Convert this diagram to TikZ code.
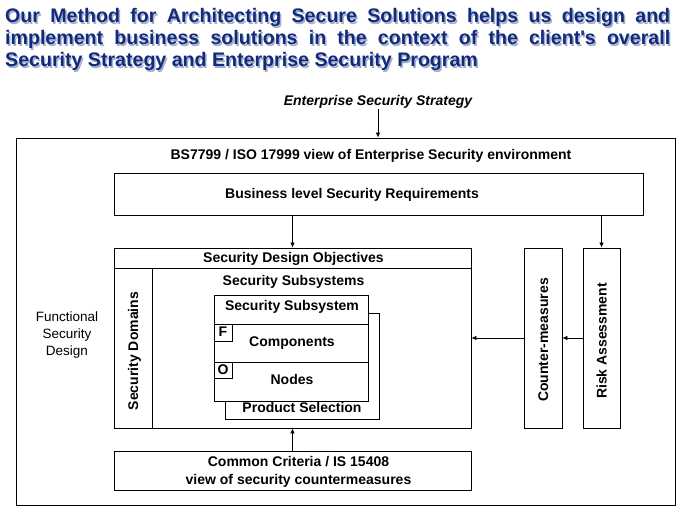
\documentclass[tikz,border=0pt]{standalone}
\usepackage{fontspec}
\setmainfont{Liberation Sans}
\usetikzlibrary{arrows.meta}
\definecolor{navy}{RGB}{18,42,122}
\definecolor{shade}{RGB}{165,175,205}
\begin{document}
\begin{tikzpicture}[x=1pt,y=-1pt,
  bx/.style={draw, line width=0.8pt, fill=white, inner sep=0pt},
  lbl/.style={font=\fontsize{14}{18}\selectfont\bfseries, inner sep=0pt, text height=10pt, text depth=0pt},
  mlbl/.style={font=\fontsize{14}{18}\selectfont\bfseries, inner sep=0pt, align=center},
  ttl/.style={font=\fontsize{19.6}{22}\selectfont\bfseries, inner sep=0pt, anchor=base west},
  arr/.style={-{Latex[length=5pt,width=4.5pt]}, line width=0.8pt},
  ln/.style={line width=0.8pt}]
\useasboundingbox (0,0) rectangle (689,518);
% title with shadow
\node[ttl, text=shade] (t1s) at (6.5,24.5) {\makebox[665pt][s]{Our Method for Architecting Secure Solutions helps us design and}};
\node[ttl, text=shade] (t2s) at (6.5,46.5) {\makebox[665pt][s]{implement business solutions in the context of the client\textquotesingle s overall}};
\node[ttl, text=shade] (t3s) at (6.5,68.5) {Security Strategy and Enterprise Security Program};
\node[ttl, text=navy] (t1) at (5,23) {\makebox[665pt][s]{Our Method for Architecting Secure Solutions helps us design and}};
\node[ttl, text=navy] (t2) at (5,45) {\makebox[665pt][s]{implement business solutions in the context of the client\textquotesingle s overall}};
\node[ttl, text=navy] (t3) at (5,67) {Security Strategy and Enterprise Security Program};
% boxes
\node[bx, minimum width=659pt, minimum height=367pt] (outer) at (345.5,321.5) {};
\node[bx, minimum width=529pt, minimum height=42pt] (bus) at (378.5,194) {};
\node[bx, minimum width=357pt, minimum height=180pt] (sdo) at (292.5,338) {};
\draw[ln] (sdo.west |- 0,268) coordinate (hl) -- (sdo.east |- 0,268) coordinate (hr);
\node[bx, minimum width=38pt, minimum height=160pt] (dom) at (133,348) {};
\node[bx, minimum width=38pt, minimum height=180pt] (cm) at (543,338) {};
\node[bx, minimum width=37pt, minimum height=180pt] (risk) at (601.5,338) {};
\node[bx, minimum width=357pt, minimum height=39pt] (cc) at (292.5,470.5) {};
\node[bx, minimum width=154pt, minimum height=106pt] (back) at (302,366) {};
\node[bx, minimum width=154pt, minimum height=106pt] (front) at (291,348) {};
\draw[ln] (front.west |- 0,324) coordinate (l1a) -- (front.east |- 0,324) coordinate (l1b);
\draw[ln] (front.west |- 0,362) coordinate (l2a) -- (front.east |- 0,362) coordinate (l2b);
\node[bx, minimum width=18pt, minimum height=17pt] (fbox) at (223,332.5) {};
\node[bx, minimum width=18pt, minimum height=16pt] (obox) at (223,370) {};
% texts
\node[lbl, font=\fontsize{14}{18}\selectfont\bfseries\itshape] (ess) at (378,101) {Enterprise Security Strategy};
\node[lbl] (bstxt) at (371,155) {BS7799 / ISO 17999 view of Enterprise Security environment};
\node[lbl] (bustxt) at (352,194) {Business level Security Requirements};
\node[lbl] (sdotxt) at (293.5,258) {Security Design Objectives};
\node[lbl] (sstxt) at (293.5,281) {Security Subsystems};
\node[lbl] (subtxt) at (292,306) {Security Subsystem};
\node[lbl] (comptxt) at (292,342) {Components};
\node[lbl] (nodtxt) at (292,379.5) {Nodes};
\node[lbl] (pstxt) at (302,408) {Product Selection};
\node[lbl] (ftxt) at (223,331.5) {F};
\node[lbl] (otxt) at (223,369.5) {O};
\node[lbl, rotate=90] (domtxt) at (133,351) {Security Domains};
\node[lbl, rotate=90] (cmtxt) at (543,340) {Counter-measures};
\node[lbl, rotate=90] (risktxt) at (601.5,341) {Risk Assessment};
\node[mlbl] (cctxt) at (298.5,472) {Common Criteria / IS 15408\\view of security countermeasures};
\node[inner sep=0pt, align=center, font=\fontsize{13.5}{17}\selectfont] (fsd) at (67,335.5) {Functional\\Security\\Design};
% arrows
\draw[arr] (ess.south) ++(0,3) -- (ess.south |- outer.north);
\draw[arr] (bus.south -| sdo.north) -- (sdo.north);
\draw[arr] (bus.south -| risk.north) -- (risk.north);
\draw[arr] (risk.west) -- (cm.east);
\draw[arr] (cm.west) -- (sdo.east);
\draw[arr] (cc.north) -- (sdo.south);
\end{tikzpicture}
\end{document}
